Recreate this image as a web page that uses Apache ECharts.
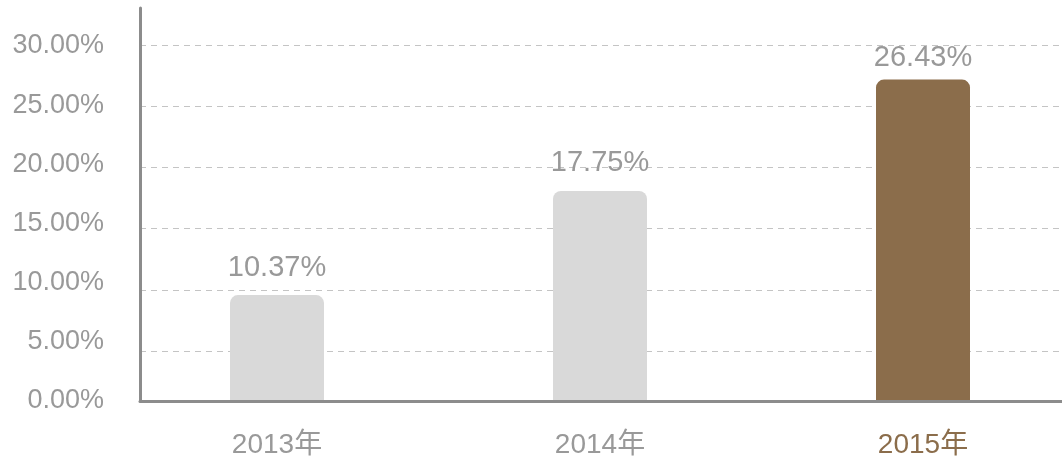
<!DOCTYPE html>
<html>
<head>
<meta charset="utf-8">
<script src="https://cdn.jsdelivr.net/npm/echarts@6/dist/echarts.min.js"></script>
<style>
  html, body { margin: 0; padding: 0; background: #ffffff; }
  #chart { width: 1062px; height: 460px; }
</style>
</head>
<body>
<div id="chart"></div>
<script>
// ---- data ----
const categories = ['2013年', '2014年', '2015年'];
const barValues = [8.95, 17.75, 27.15];      // bar heights as drawn (%)
const labelValues = [10.37, 17.75, 26.43];   // value labels shown above the bars (%)
const yTickValues = [0, 5, 10, 15, 20, 25, 30];

// ---- style ----
const FONT = "'Liberation Sans', Arial, 'Noto Sans CJK SC', sans-serif";
const GRAY_TEXT = '#999999';
const AXIS_COLOR = '#8c8c8c';
const BAR_GRAY = '#d9d9d9';
const BAR_HIGHLIGHT = '#8b6d4b';
const highlightIndex = 2;
const labelDistances = [13, 13, 7];

const chart = echarts.init(document.getElementById('chart'), null, { renderer: 'canvas' });

const option = {
  backgroundColor: '#ffffff',
  animation: false,
  grid: [
    { left: 140, right: 0, top: 8, bottom: 59, outerBoundsMode: 'none' },
    { left: 140, right: 0, top: 8, bottom: 47.8, outerBoundsMode: 'none' },
    { left: 115.5, right: -22.5, top: 8, bottom: 59, outerBoundsMode: 'none', containLabel: false }
  ],
  xAxis: [
    {
      gridIndex: 0, type: 'category', data: categories, z: 5,
      axisLine: { show: true, lineStyle: { color: AXIS_COLOR, width: 3 } },
      axisTick: { show: false }, axisLabel: { show: false }, splitLine: { show: false }
    },
    {
      gridIndex: 1, type: 'category', data: categories, show: false
    },
    {
      gridIndex: 2, type: 'category', data: categories,
      axisLine: { show: false }, axisTick: { show: false }, splitLine: { show: false },
      axisLabel: {
        margin: 30, fontSize: 28, fontFamily: FONT,
        color: (value, index) => (index === highlightIndex ? BAR_HIGHLIGHT : GRAY_TEXT)
      }
    }
  ],
  yAxis: [
    {
      gridIndex: 0, type: 'value', min: 0, max: 33.2, interval: 5, z: 5,
      axisLine: { show: true, lineStyle: { color: AXIS_COLOR, width: 3 } },
      axisTick: { show: false }, splitLine: { show: false },
      axisLabel: {
        margin: 36, fontSize: 27, fontFamily: FONT, color: GRAY_TEXT,
        formatter: v => (yTickValues.indexOf(v) >= 0 ? v.toFixed(2) + '%' : '')
      }
    },
    {
      gridIndex: 1, type: 'value', min: 0, max: 33.02, interval: 5,
      axisLine: { show: false }, axisTick: { show: false }, axisLabel: { show: false },
      splitLine: {
        show: true, showMinLine: false, showMaxLine: false,
        lineStyle: { color: '#c4c4c4', width: 1, type: [6, 5] }
      }
    },
    {
      gridIndex: 2, type: 'value', min: 0, max: 33.2, show: false
    }
  ],
  series: [
    {
      type: 'bar',
      xAxisIndex: 2, yAxisIndex: 2,
      barWidth: 94,
      z: 3,
      data: barValues.map((v, i) => ({
        value: v,
        itemStyle: {
          color: i === highlightIndex ? BAR_HIGHLIGHT : BAR_GRAY,
          borderRadius: [8, 8, 0, 0]
        },
        label: {
          show: true, position: 'top', distance: labelDistances[i],
          formatter: () => labelValues[i].toFixed(2) + '%',
          fontSize: 29, fontFamily: FONT, color: GRAY_TEXT
        }
      }))
    }
  ]
};

chart.setOption(option);
</script>
</body>
</html>
